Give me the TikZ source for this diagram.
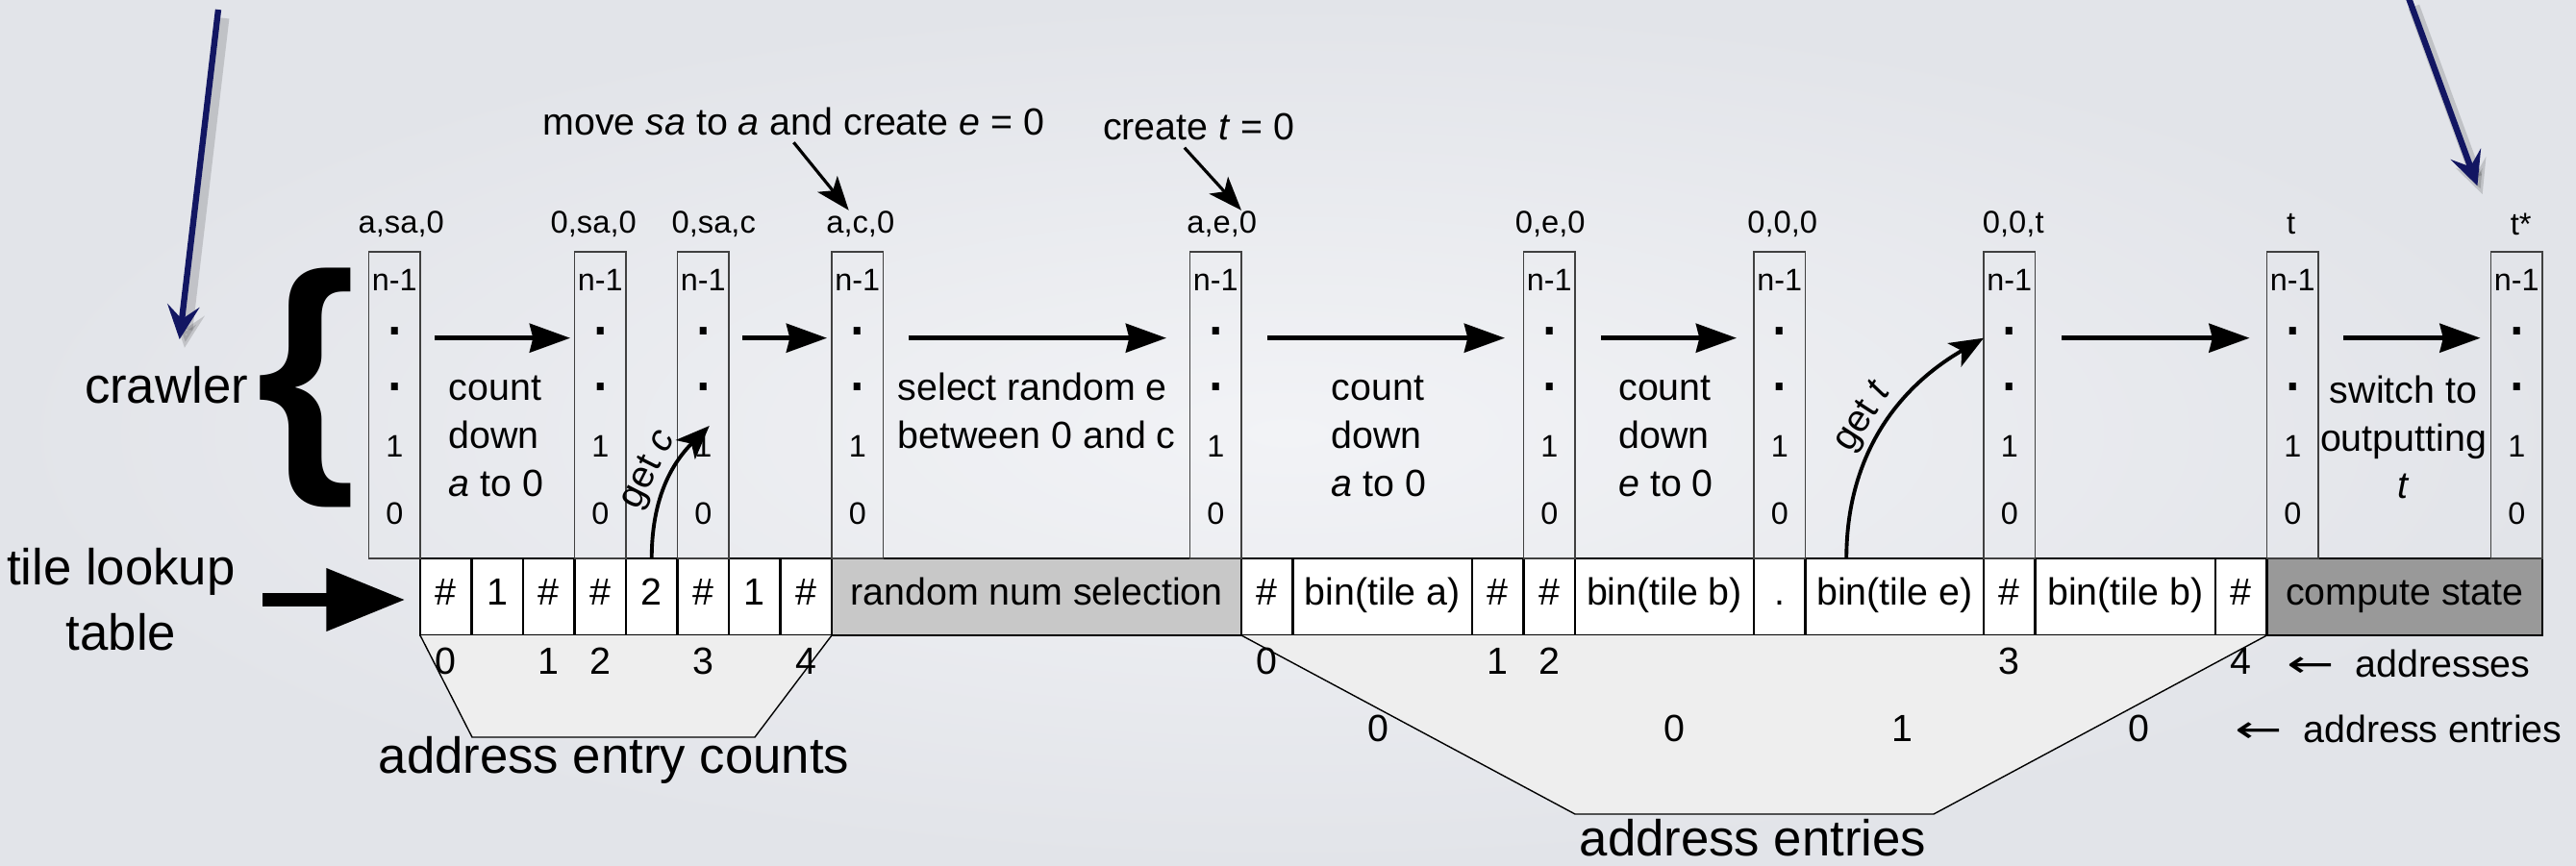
\documentclass[tikz,border=0pt]{standalone}
\usepackage{fontspec}
\setmainfont{Liberation Sans}
\newfontfamily\arrowfont{DejaVu Sans}
\usetikzlibrary{arrows.meta, positioning}

\definecolor{slidein}{RGB}{242,243,246}
\definecolor{slideout}{RGB}{226,228,233}
\definecolor{pointerblue}{RGB}{18,22,98}
\definecolor{randgray}{RGB}{200,200,200}
\definecolor{stategray}{RGB}{153,153,153}
\definecolor{areagray}{RGB}{238,238,238}

\begin{document}
\begin{tikzpicture}[
    colbox/.style={rectangle, draw=black!75, line width=0.5pt,
                   minimum width=0.535cm, minimum height=3.19cm,
                   inner sep=0pt, outer sep=0pt},
    collbl/.style={font=\fontsize{9.3}{11}\selectfont, inner sep=0pt},
    colnum/.style={font=\fontsize{9.2}{11}\selectfont, inner sep=0pt},
    coldot/.style={font=\fontsize{21}{21}\selectfont, inner sep=0pt, anchor=base},
    cell/.style={rectangle, draw=black, line width=0.6pt, fill=white,
                 minimum width=0.535cm, minimum height=0.8cm,
                 text height=0.75em, text depth=0.25em,
                 inner sep=0pt, outer sep=0pt, font=\fontsize{11.2}{13}\selectfont},
    gaptxt/.style={font=\fontsize{11.2}{14.2}\selectfont, align=left,
                   inner sep=0pt, anchor=west},
    note/.style={font=\fontsize{11.2}{13}\selectfont, inner sep=2pt},
    addr/.style={font=\fontsize{11.2}{13}\selectfont, inner sep=0pt},
    big/.style={font=\fontsize{15}{19.3}\selectfont, inner sep=0pt},
    flow/.style={-{Stealth[length=12pt,width=8.5pt,inset=1pt]}, line width=1.3pt},
    ptr/.style={-{Stealth[length=10pt,width=7.5pt,inset=2.5pt]}, line width=0.9pt},
    curv/.style={-{Stealth[length=10pt,width=8pt,inset=2.5pt]}, line width=1.1pt},
    fat/.style={-{Triangle[length=23.5pt,width=17.5pt]}, line width=4.2pt},
    blueptr/.style={-{Stealth[length=10pt,width=9.5pt,inset=4pt]}, line width=1.8pt,
                    draw=pointerblue,
                    preaction={draw=black, opacity=0.15, line width=3.5pt,
                               transform canvas={shift={(1.5pt,-2.5pt)}}}},
    area/.style={draw=black, line width=0.4pt, fill=areagray}
  ]
  \useasboundingbox (0,0) rectangle (26.79,-9.01);
  \shade[inner color=slidein, outer color=slideout] (0,0) rectangle (26.79,-9.01);

  % tile lookup table
  \node[cell, anchor=west] (t1) at (4.37,-6.21) {\#};
  \foreach \w/\txt/\fc [count=\i from 2] in {
      0.535/1/white, 0.535/\#/white, 0.535/\#/white, 0.535/2/white,
      0.535/\#/white, 0.535/1/white, 0.535/\#/white,
      4.26/random num selection/randgray, 0.535/\#/white,
      1.865/bin(tile a)/white, 0.535/\#/white, 0.535/\#/white,
      1.86/bin(tile b)/white, 0.535/./white, 1.855/bin(tile e)/white,
      0.535/\#/white, 1.875/bin(tile b)/white, 0.535/\#/white,
      2.865/compute state/stategray}
  {
    \pgfmathtruncatemacro{\prev}{\i-1}
    \node[cell, minimum width=\w cm, fill=\fc, right=0pt of t\prev] (t\i) {\txt};
  }

  % crawler columns
  \node[colbox, anchor=south east] (c1) at (t1.north west) {};
  \node[colbox, above=0pt of t4] (c2) {};
  \node[colbox, above=0pt of t6] (c3) {};
  \node[colbox, anchor=south west] (c4) at (t9.north west) {};
  \node[colbox, anchor=south east] (c5) at (t9.north east) {};
  \node[colbox, above=0pt of t13] (c6) {};
  \node[colbox, above=0pt of t15] (c7) {};
  \node[colbox, above=0pt of t17] (c8) {};
  \node[colbox, anchor=south west] (c9) at (t20.north west) {};
  \node[colbox, anchor=south east] (c10) at (t20.north east) {};

  \foreach \col/\lbl/\dx in {c1/{a,sa,0}/0.07, c2/{0,sa,0}/-0.07, c3/{0,sa,c}/0.11,
      c4/{a,c,0}/0.03, c5/{a,e,0}/0.065, c6/{0,e,0}/0.01, c7/{0,0,0}/0.03,
      c8/{0,0,t}/0.04, c9/t/-0.015, c10/{t*}/0.045}
  {
    \node[collbl] (l\col) at ([xshift=\dx cm, yshift=2.9mm]\col.north) {\lbl};
    \node[colnum] at ([yshift=-2.9mm]\col.north) {n-1};
    \node[coldot] at ([yshift=-8.65mm]\col.north) {.};
    \node[coldot] at ([yshift=-14.47mm]\col.north) {.};
    \node[colnum] at ([yshift=-20.2mm]\col.north) {1};
    \node[colnum] at ([yshift=-27.2mm]\col.north) {0};
  }

  % steps between columns
  \foreach \a/\b/\s/\e in {c1/c2/0.15/0.045, c3/c4/0.14/0.05, c4/c5/0.265/0.245,
      c5/c6/0.27/0.195, c6/c7/0.27/0.18, c8/c9/0.275/0.18, c9/c10/0.26/0.11}
    \draw[flow, shorten <=\s cm, shorten >=\e cm] ([yshift=6.98mm]\a.east) -- ([yshift=6.98mm]\b.west);

  \node[gaptxt] (g1) at (4.66,-4.54) {count\\down\\\textit{a} to 0};
  \node[gaptxt] (g2) at (9.33,-4.27) {select random e\\between 0 and c};
  \node[gaptxt] (g3) at (13.84,-4.54) {count\\down\\\textit{a} to 0};
  \node[gaptxt] (g4) at (16.827,-4.54) {count\\down\\\textit{e} to 0};
  \node[gaptxt, align=center, anchor=center] (g5) at (24.995,-4.55) {switch to\\outputting\\\textit{t}};

  \draw[curv] (t5.north) to[out=90, in=225]
      node[sloped, above, pos=0.55, inner sep=1pt, font=\fontsize{11.2}{13}\selectfont] {get \textit{c}}
      ([xshift=0.65mm, yshift=-2.15mm]c3.center);
  \draw[curv] ([xshift=-5mm]t16.north) to[out=90, in=210]
      node[sloped, above, pos=0.5, inner sep=1pt, font=\fontsize{11.2}{13}\selectfont] {get \textit{t}}
      ([yshift=6.98mm]c8.west);

  % notes on top
  \node[note] (mv) at (8.254,-1.26) {move \textit{sa} to \textit{a} and create \textit{e} = 0};
  \node[note] (ct) at (12.468,-1.32) {create \textit{t} = 0};
  \draw[ptr] (mv.south) -- ([xshift=-1.2mm]lc4.north);
  \draw[ptr] ([xshift=-1.5mm]ct.south) -- (lc5.north -| c5.east);

  % address areas
  \draw[area] (t1.south west) -- (4.91,-7.67) -- (7.85,-7.67) -- (t8.south east);
  \draw[area] (t9.south east) -- (16.38,-8.47) -- (20.11,-8.47) -- (t19.south east);

  \foreach \cl/\v in {t1/0, t3/1, t4/2, t6/3, t8/4, t10/0, t12/1, t13/2, t17/3, t19/4}
    \node[addr] at ([yshift=-2.7mm]\cl.south) {\v};
  \foreach \cl/\v/\dx in {t11/0/-0.04, t14/0/0.10, t16/1/0.08, t18/0/0.14}
    \node[addr] at ([xshift=\dx cm, yshift=-9.7mm]\cl.south) {\v};

  \node[addr, anchor=west] (addrs) at (23.78,-6.90)
      {{\arrowfont\scalebox{1.5}[1]{←}}\hspace{0.55em}addresses};
  \node[addr, anchor=west] (entrs) at (23.235,-7.58)
      {{\arrowfont\scalebox{1.5}[1]{←}}\hspace{0.55em}address entries};

  \node[big] (aec) at (6.385,-7.91) {address entry counts};
  \node[big] (ae) at (18.23,-8.72) {address entries};

  % left side labels
  \node[big] (crawler) at (1.73,-4.01) {crawler};
  \node[inner sep=0pt, font=\fontsize{76}{76}\selectfont\bfseries] (brc) at (3.18,-4.03) {\{};
  \node[big, align=center] (tlt) at (1.26,-6.24) {tile lookup\\table};
  \draw[fat, shorten <=0.28cm, shorten >=0.15cm] (tlt.east) -- (tlt.east -| t1.west);

  % pointers from outside the slide
  \coordinate (ptrAfrom) at (2.27,-0.10);
  \coordinate (ptrAto) at (1.867,-3.53);
  \draw[blueptr] (ptrAfrom) -- (ptrAto);
  \coordinate (ptrBfrom) at (25.05,0.02);
  \coordinate (ptrBto) at (25.764,-1.933);
  \draw[blueptr] (ptrBfrom) -- (ptrBto);
\end{tikzpicture}
\end{document}
